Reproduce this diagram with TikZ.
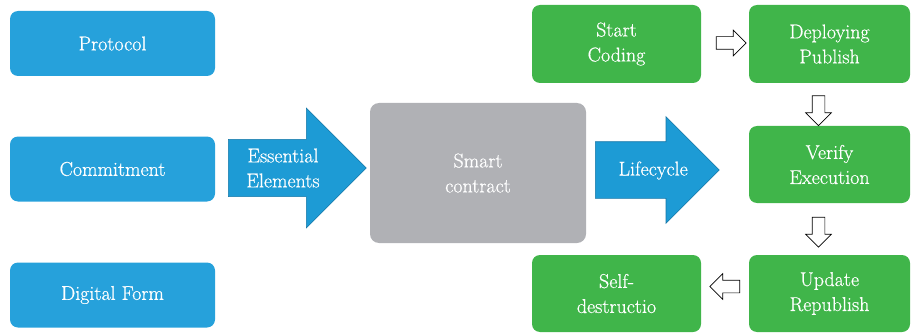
\documentclass[tikz,border=0pt]{standalone}
\usepackage{fontspec}
\setmainfont{Latin Modern Roman}[FakeBold=0.6]
\usetikzlibrary{shapes.arrows}

\definecolor{boxblue}{RGB}{38,161,219}
\definecolor{arrowblue}{RGB}{29,155,213}
\definecolor{arrowedge}{RGB}{22,118,166}
\definecolor{boxgray}{RGB}{176,177,181}
\definecolor{boxgreen}{RGB}{64,181,74}

\tikzset{
  element/.style={rectangle, rounded corners=8pt, fill=boxblue, text=white,
    minimum width=205pt, minimum height=65pt},
  stage/.style={rectangle, rounded corners=8pt, fill=boxgreen, text=white,
    align=center, minimum height=78pt},
  bigarrow/.style={single arrow, fill=arrowblue, draw=arrowedge, line width=0.6pt,
    text=white, align=center, inner xsep=2pt, single arrow tip angle=90},
  hollow/.style={single arrow, draw=black, fill=white, line width=0.7pt,
    inner xsep=0pt, inner ysep=6pt, minimum height=30pt, minimum width=25pt,
    single arrow head extend=6.5pt},
  hollowdown/.style={hollow, shape border rotate=270, inner xsep=6pt, inner ysep=0pt}
}

\begin{document}
\begin{tikzpicture}[x=1pt,y=-1pt,font=\fontsize{20}{25}\selectfont]
\useasboundingbox (0,0) rectangle (912,334);

% essential elements
\node[element] (proto) at (112.5,43.5) {Protocol};
\node[element] (commit) at (112.5,169) {Commitment};
\node[element] (digital) at (112.5,295) {Digital Form};

\node[bigarrow, minimum height=138pt, minimum width=120pt, inner ysep=8pt,
  single arrow head extend=30.5pt, anchor=tail]
  (essential) at (228,168) {Essential\\Elements};

\node[rectangle, rounded corners=9pt, fill=boxgray, text=white, align=center,
  minimum width=216pt, minimum height=140pt] (smart) at (478,173) {Smart\\contract};

\node[bigarrow, minimum height=124pt, minimum width=106pt, text height=15pt,
  text depth=4pt, inner ysep=18.5pt, single arrow head extend=25pt, anchor=tail]
  (life) at (595,170) {\hspace*{20pt}Lifecycle};

% lifecycle stages
\node[stage, minimum width=169pt] (start) at (616.5,44) {Start\\Coding};
\node[stage, minimum width=161pt] (deploy) at (829.5,44) {Deploying\\Publish};
\node[stage, minimum width=161pt, minimum height=77pt] (verify) at (829.5,164.5) {Verify\\Execution};
\node[stage, minimum width=161pt, minimum height=77pt] (update) at (829.5,293.5) {Update\\Republish};
\node[stage, minimum width=169pt, minimum height=77pt] (selfd) at (616.5,293.5) {Self-\\destructio};

\node[hollow] (a1) at (728,43) {};
\node[hollowdown] (a2) at (818.5,107.5) {};
\node[hollowdown] (a3) at (818.5,229) {};
\node[hollow, shape border rotate=180] (a4) at (728,286.5) {};
\end{tikzpicture}
\end{document}
